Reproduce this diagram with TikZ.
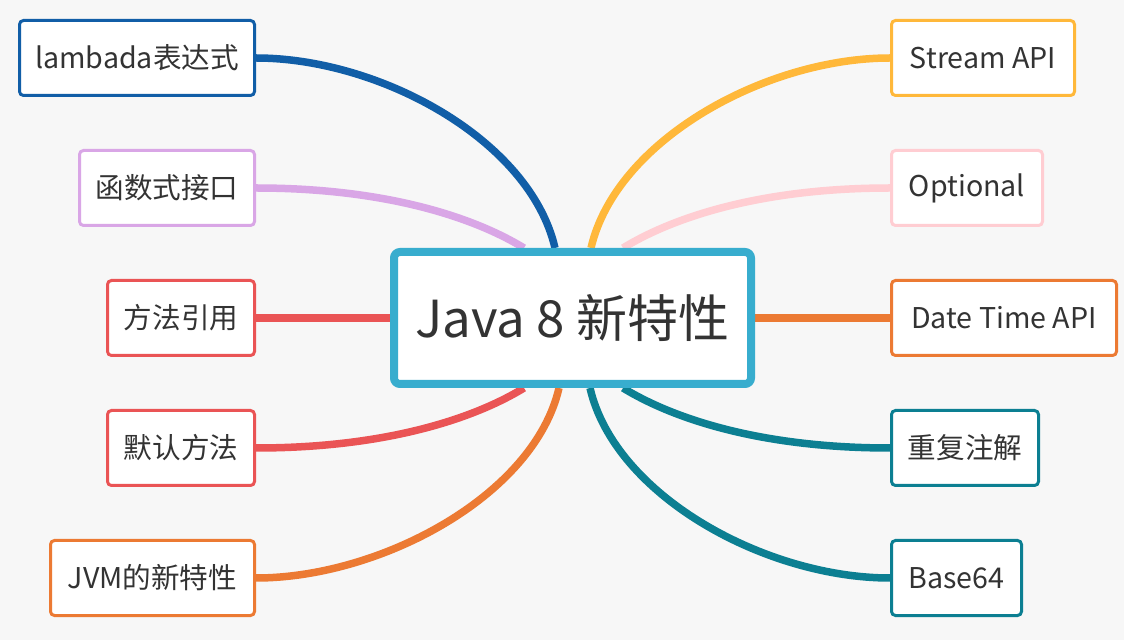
\documentclass[tikz,border=0pt]{standalone}
\usepackage{fontspec}
\setmainfont{Noto Sans CJK SC}
\usetikzlibrary{backgrounds}
\definecolor{lambda}{RGB}{17,94,167}
\definecolor{functional}{RGB}{217,166,230}
\definecolor{method}{RGB}{234,84,85}
\definecolor{jvm}{RGB}{236,122,51}
\definecolor{stream}{RGB}{255,184,58}
\definecolor{optional}{RGB}{255,205,210}
\definecolor{annotation}{RGB}{12,127,146}
\definecolor{hub}{RGB}{56,173,206}
\definecolor{paper}{RGB}{247,247,247}
\definecolor{ink}{RGB}{51,51,51}
\tikzstyle{leaf}=[draw, fill=white, rounded corners=2pt, line width=1.5pt, minimum height=37.5pt, text=ink, font=\fontsize{14.3}{17}\selectfont]
\tikzstyle{root}=[draw=hub, fill=white, rounded corners=3pt, line width=4pt, minimum width=178.5pt, minimum height=66pt, text=ink, font=\fontsize{25.5}{30}\selectfont]
\tikzset{branch/.style={line width=3.75pt}}

\begin{document}
\begin{tikzpicture}[x=0.5pt, y=-0.5pt]
  \useasboundingbox (0,0) rectangle (1124,640);

  \node[root] (java) at (572.5,318) {Java 8 新特性};

  %% left side
  \node[leaf, draw=lambda, minimum width=117.5pt, anchor=east] (lam) at (256,58) {lambada表达式};
  \node[leaf, draw=functional, minimum width=87.5pt, anchor=east] (fun) at (256,188) {函数式接口};
  \node[leaf, draw=method, minimum width=73.5pt, anchor=east] (ref) at (256,318) {方法引用};
  \node[leaf, draw=method, minimum width=73.5pt, anchor=east] (dft) at (256,448) {默认方法};
  \node[leaf, draw=jvm, minimum width=102pt, anchor=east] (jvmnew) at (256,578) {JVM的新特性};

  %% right side
  \node[leaf, draw=stream, minimum width=91.5pt, anchor=west] (strm) at (890,58) {Stream API};
  \node[leaf, draw=optional, minimum width=75.5pt, anchor=west] (opt) at (890,188) {Optional};
  \node[leaf, draw=jvm, minimum width=112.5pt, anchor=west] (date) at (890,318) {Date Time API};
  \node[leaf, draw=annotation, minimum width=73.5pt, anchor=west] (rep) at (890,448) {重复注解};
  \node[leaf, draw=annotation, minimum width=65pt, anchor=west] (b64) at (890,578) {Base64};

  \begin{scope}[on background layer]
    \fill[paper] (0,0) rectangle (1124,640);

    \draw[branch, lambda] (lam.east) .. controls +(124,0) and +(-25,-108) .. ([xshift=-8.75pt]java.north);
    \draw[branch, functional] (fun.east) .. controls +(124,0) and +(-54,-33) .. ([xshift=-24.25pt]java.north);
    \draw[branch, method] (ref.east) -- (java.west);
    \draw[branch, method] (dft.east) .. controls +(124,0) and +(-54,33) .. ([xshift=-24.25pt]java.south);
    \draw[branch, jvm] (jvmnew.east) .. controls +(124,0) and +(-25,108) .. ([xshift=-6.75pt]java.south);

    \draw[branch, stream] (strm.west) .. controls +(-124,0) and +(25,-108) .. ([xshift=9.25pt]java.north);
    \draw[branch, optional] (opt.west) .. controls +(-124,0) and +(54,-33) .. ([xshift=25.25pt]java.north);
    \draw[branch, jvm] (date.west) -- (java.east);
    \draw[branch, annotation] (rep.west) .. controls +(-124,0) and +(54,33) .. ([xshift=25.25pt]java.south);
    \draw[branch, annotation] (b64.west) .. controls +(-124,0) and +(25,108) .. ([xshift=8.75pt]java.south);
  \end{scope}
\end{tikzpicture}
\end{document}
